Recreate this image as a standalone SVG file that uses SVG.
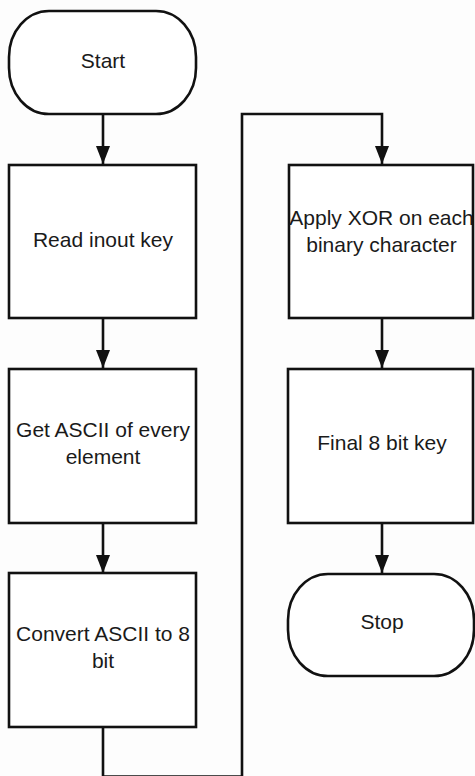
<svg xmlns="http://www.w3.org/2000/svg" width="475" height="776" viewBox="0 0 475 776">
<defs>
<marker id="arr" viewBox="0 0 18 14" refX="18" refY="7" markerWidth="18" markerHeight="14" markerUnits="userSpaceOnUse" orient="auto">
<path d="M0,0 L18,7 L0,14 Z" fill="#111"/>
</marker>
<style>
.shape{fill:#fff;stroke:#111;stroke-width:2.6}
.lbl{font-family:"Liberation Sans",Arial,sans-serif;font-size:21px;fill:#1a1a1a;text-anchor:middle}
.conn{fill:none;stroke:#111;stroke-width:2.6}
</style>
</defs>
<rect width="475" height="776" fill="#fdfdfd"/>
<g id="connectors">
<path class="conn" d="M103,114 L103,164" marker-end="url(#arr)"/>
<path class="conn" d="M103,318 L103,368" marker-end="url(#arr)"/>
<path class="conn" d="M103,523 L103,573" marker-end="url(#arr)"/>
<path class="conn" d="M103,727 L103,776.6 L242,776.6 L242,114 L382,114 L382,164" marker-end="url(#arr)"/>
<path class="conn" d="M382,318 L382,368" marker-end="url(#arr)"/>
<path class="conn" d="M382,523 L382,573" marker-end="url(#arr)"/>
</g>
<g id="start">
<rect class="shape" x="9" y="11" width="187" height="103" rx="40" ry="46"/>
<text class="lbl" x="103" y="68">Start</text>
</g>
<g id="read">
<rect class="shape" x="9" y="165" width="187" height="153"/>
<text class="lbl" x="103" y="247">Read inout key</text>
</g>
<g id="ascii">
<rect class="shape" x="9" y="369" width="187" height="154"/>
<text class="lbl" x="103" y="437">Get ASCII of every</text>
<text class="lbl" x="103" y="464">element</text>
</g>
<g id="convert">
<rect class="shape" x="9" y="573" width="187" height="154"/>
<text class="lbl" x="103" y="641">Convert ASCII to 8</text>
<text class="lbl" x="103" y="668">bit</text>
</g>
<g id="xor">
<rect class="shape" x="289" y="165" width="184" height="153"/>
<text class="lbl" x="381.5" y="225">Apply XOR on each</text>
<text class="lbl" x="381.5" y="252">binary character</text>
</g>
<g id="final">
<rect class="shape" x="288" y="369" width="185" height="154"/>
<text class="lbl" x="382" y="450">Final 8 bit key</text>
</g>
<g id="stop">
<rect class="shape" x="288" y="574" width="186" height="102" rx="40" ry="46"/>
<text class="lbl" x="382" y="629">Stop</text>
</g>
</svg>
